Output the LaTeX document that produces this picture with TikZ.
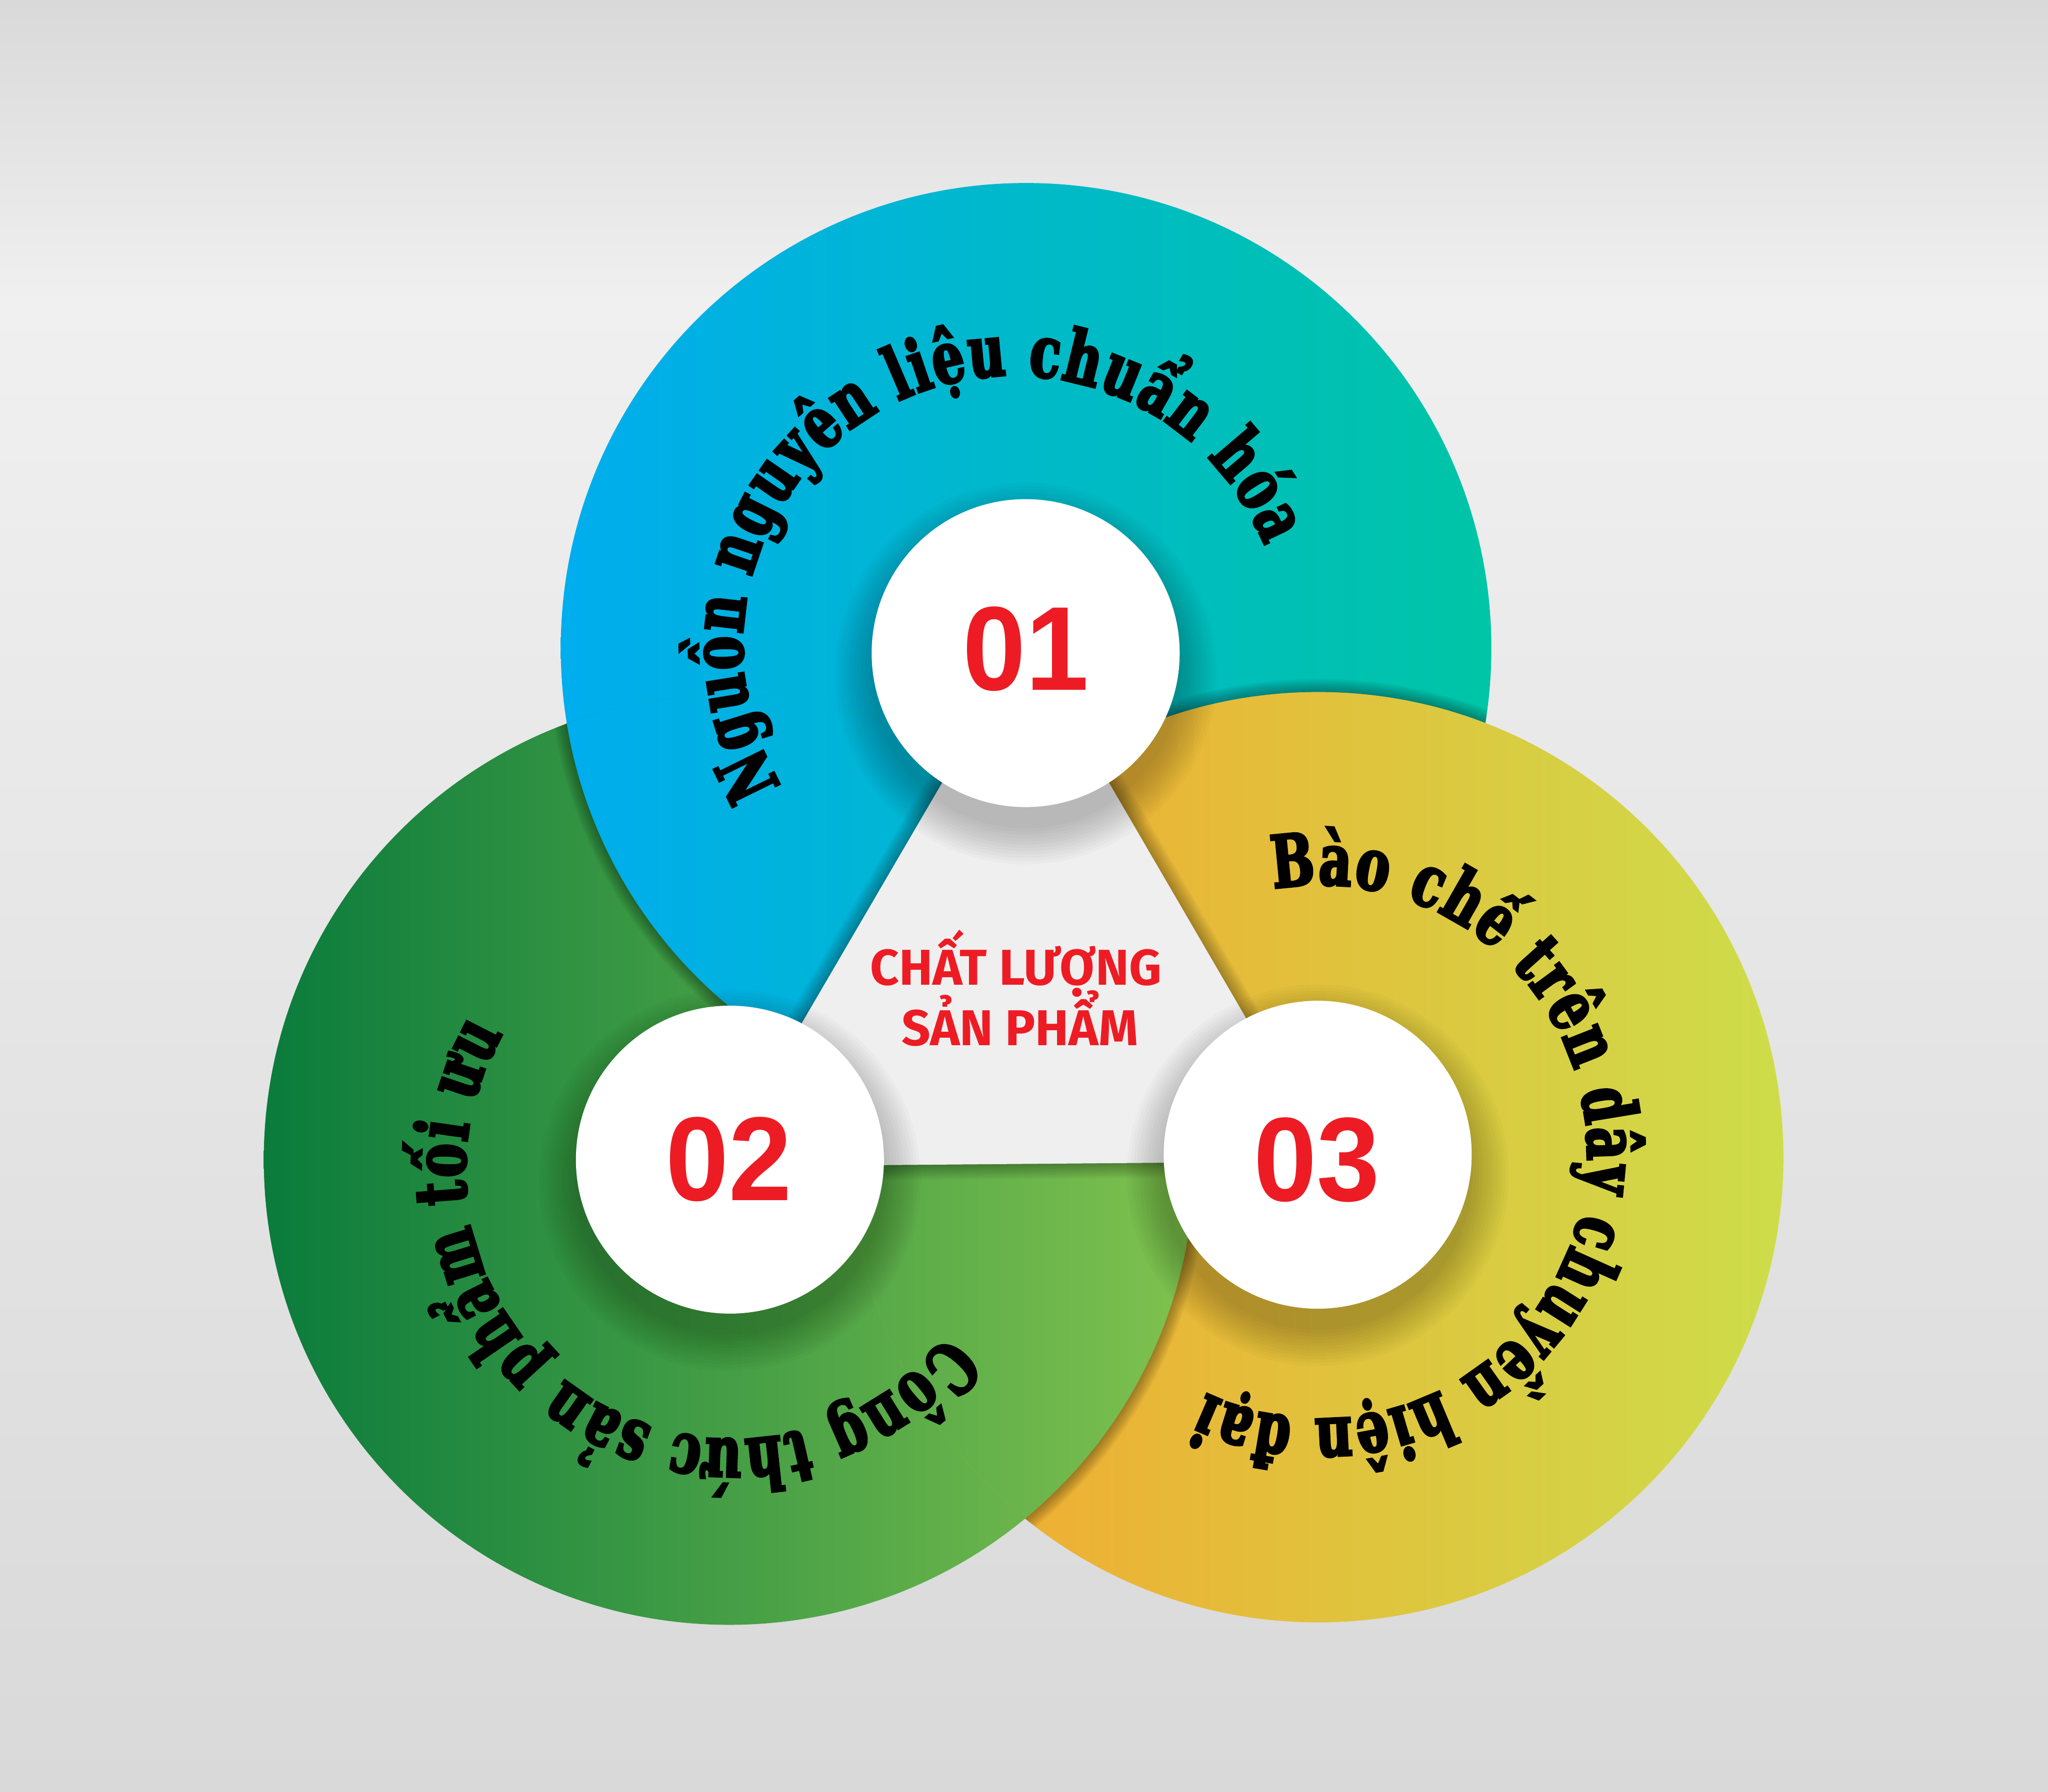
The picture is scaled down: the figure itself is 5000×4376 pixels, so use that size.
\documentclass[tikz,border=0pt]{standalone}
\usepackage{fontspec}
\usetikzlibrary{decorations.text,calc}
\newfontfamily\arcfont{DejaVu Serif}[FakeStretch=0.70,FakeBold=3.5]
\newfontfamily\numfont{Liberation Sans}[FakeStretch=0.95]
\newfontfamily\capfont{Fira Sans}
\definecolor{bgtop}{HTML}{D9D9D9}
\definecolor{bgmid}{HTML}{F0F0F0}
\definecolor{bgbot}{HTML}{D9D9D9}
\definecolor{blueL}{HTML}{00ADEE}
\definecolor{blueR}{HTML}{00C5A6}
\definecolor{greenL}{HTML}{0A7B3C}
\definecolor{greenR}{HTML}{80C24F}
\definecolor{yellowL}{HTML}{F6A52F}
\definecolor{yellowR}{HTML}{CDDD4A}
\definecolor{redc}{HTML}{ED1C24}
\definecolor{trifill}{HTML}{EFEFEF}
\newcommand\arcstyle{\arcfont\bfseries\fontsize{50}{52}\selectfont}
\begin{document}
\begin{tikzpicture}[x=0.1mm,y=0.1mm,
  bluefill/.style={left color=blueL,right color=blueR},
  greenfill/.style={left color=greenL,right color=greenR},
  yellowfill/.style={left color=yellowL,right color=yellowR},
  edgeshade/.style={draw=black,opacity=0.045},
  numstyle/.style={font=\numfont\bfseries\fontsize{83}{90}\selectfont,text=redc,inner sep=0pt},
  capstyle/.style={font=\capfont\bfseries\fontsize{35}{42}\selectfont,text=redc,inner sep=0pt}
]
% background
\shade[top color=bgtop,bottom color=bgmid] (0,3640) rectangle (5000,4376);
\shade[top color=bgmid,bottom color=bgbot] (0,0) rectangle (5000,3645);
\useasboundingbox (0,0) rectangle (5000,4376);

\coordinate (B) at (2505,2793);
\coordinate (G) at (1780,1544);
\coordinate (Y) at (3218,1550);
\def\R{1136}

% big circles, cyclic overlap
\shade[bluefill] (B) circle[radius=\R];
\shade[greenfill] (G) circle[radius=\R];
\begin{scope}
  \clip (B) circle[radius=\R];
  \foreach \k in {1,...,8} \draw[edgeshade,line width=\k*0.8mm] (Y) circle[radius=\R];
\end{scope}
\shade[yellowfill] (Y) circle[radius=\R];
\begin{scope}
  \clip (Y) circle[radius=\R];
  \foreach \k in {1,...,8} \draw[edgeshade,line width=\k*0.8mm] (G) circle[radius=\R];
  \shade[greenfill] (G) circle[radius=\R];
\end{scope}
\begin{scope}
  \clip (G) circle[radius=\R];
  \foreach \k in {1,...,8} \draw[edgeshade,line width=\k*0.8mm] (B) circle[radius=\R];
  \shade[bluefill] (B) circle[radius=\R];
\end{scope}

% curved texts
\path[decorate,decoration={text along path,text align={fit to path},
  text={|\arcstyle|Nguồn nguyên liệu chuẩn hóa}}]
  ([shift={(2474,2798)}]211:661) arc[start angle=211,end angle=21.8,radius=661];
\path[decorate,decoration={text along path,text align={fit to path},
  text={|\arcstyle|Bào chế trên dây chuyền hiện đại}}]
  ([shift={(3223,1563)}]100:652) arc[start angle=100,end angle=-115.3,radius=652];
\path[decorate,decoration={text along path,text align={fit to path},
  text={|\arcstyle|Công thức sản phẩm tối ưu}}]
  ([shift={(1791,1516)}]-37.7:655) arc[start angle=-37.7,end angle=-210.8,radius=655];

% central triangle
\coordinate (sB) at (2504,2781);
\coordinate (sG) at (1782,1544);
\coordinate (sY) at (3217,1556);
\coordinate (ctr) at (barycentric cs:sB=1,sG=1,sY=1);
\coordinate (t1) at ($(ctr)!1.04!(sB)$);
\coordinate (t2) at ($(ctr)!1.04!(sG)$);
\coordinate (t3) at ($(ctr)!1.04!(sY)$);
\foreach \k in {1,...,8} \draw[black,opacity=0.04,line width=\k*0.9mm,line join=round] (t1)--(t2)--(t3)--cycle;
\fill[trifill] (t1)--(t2)--(t3)--cycle;

% white circles with soft shadows
\foreach \c in {sB,sG,sY}{
  \foreach \k in {1,...,12} \fill[black,opacity=0.02] ([yshift=-5mm]\c) circle[radius=370+\k*8];
  \fill[white] (\c) circle[radius=376];
}

% labels
\node[numstyle] (n1) at (2504,2791) {01};
\node[numstyle] (n2) at (1779,1545) {02};
\node[numstyle] (n3) at (3215,1543) {03};
\node[capstyle,anchor=base] (q1) at (2480,1971) {CHẤT LƯỢNG};
\node[capstyle,anchor=base] (q2) at (2490,1823) {SẢN PHẨM};
\end{tikzpicture}
\end{document}
